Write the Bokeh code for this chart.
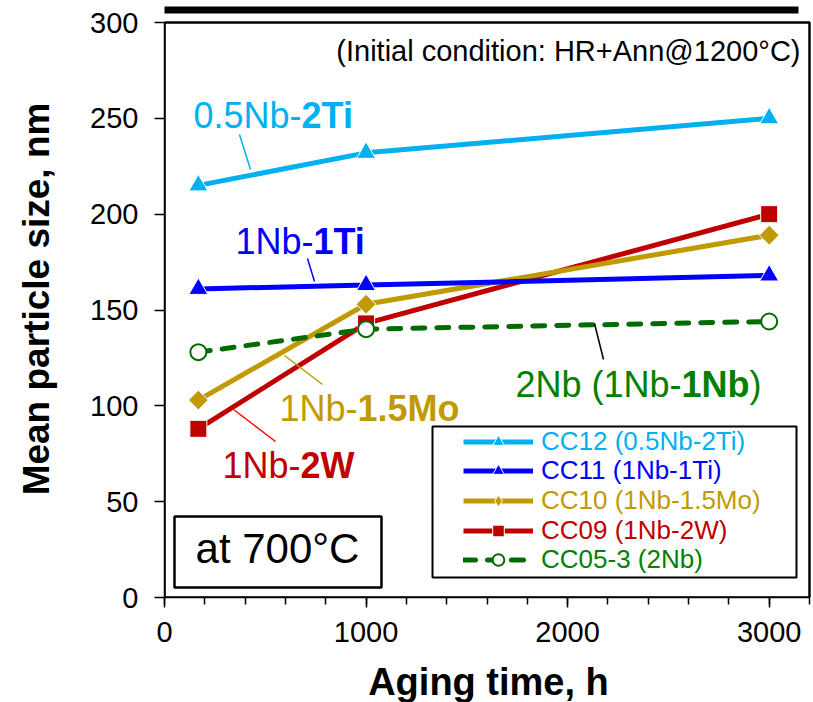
from bokeh.plotting import figure
from bokeh.models import (Range1d, Label, BoxAnnotation, Legend, LegendItem,
                          FixedTicker)
from bokeh.embed import file_html
from bokeh.resources import INLINE
import math

# ---------------- data ----------------
hours = [168, 1000, 3000]
cc12 = [215, 232, 250]   # 0.5Nb-2Ti
cc11 = [161, 163, 168]   # 1Nb-1Ti
cc10 = [103, 153, 189]   # 1Nb-1.5Mo
cc09 = [88, 143, 200]    # 1Nb-2W
cc05 = [128, 140, 144]   # 2Nb

legend_labels = ["CC12 (0.5Nb-2Ti)", "CC11 (1Nb-1Ti)", "CC10 (1Nb-1.5Mo)",
                 "CC09 (1Nb-2W)", "CC05-3 (2Nb)"]
x_ticks = [0, 1000, 2000, 3000]
y_ticks = [0, 50, 100, 150, 200, 250, 300]
X_MAX, Y_MAX = 3200, 300

FONT = "Liberation Sans"
C_LB = "#00B0F0"
C_B = "#0000FF"
C_GOLD = "#C09A00"
C_RED = "#C00000"
C_GREEN = "#006C00"
C_GREEN_T = "#008000"

# ---------------- layout geometry (page pixels) ----------------
FL, FW = 164, 645          # frame left / width of 0..3200
EXTRA = 3                  # extra pixels on the right so the border shows
AX_TOP, AX_BOT = 22, 597   # page y of 300 and of 0
PX_PER_Y = (AX_BOT - AX_TOP) / Y_MAX
FH = AX_BOT                # frame spans the page from its top edge

def dx(px):
    return (px - FL) / FW * X_MAX

def dy(py):
    return (AX_BOT - py) / PX_PER_Y

p = figure(frame_width=FW + EXTRA, frame_height=FH,
           min_border_left=FL, min_border_right=813 - FL - FW - EXTRA,
           min_border_top=0, min_border_bottom=702 - FH,
           x_range=Range1d(0, dx(FL + FW + EXTRA)), y_range=Range1d(0, dy(0)),
           output_backend="svg", toolbar_location=None)
p.grid.visible = False
p.outline_line_color = None
p.background_fill_color = "white"
p.border_fill_color = "white"

# axes
p.xaxis.ticker = FixedTicker(ticks=x_ticks,
                             minor_ticks=list(range(0, X_MAX + 1, 200)))
p.xaxis.bounds = (0, X_MAX)
p.yaxis.ticker = FixedTicker(ticks=y_ticks)
p.yaxis.bounds = (0, Y_MAX)
for ax in (p.xaxis[0], p.yaxis[0]):
    ax.axis_line_width = 1.5
    ax.major_tick_line_width = 1.5
    ax.minor_tick_line_width = 1.5
    ax.major_tick_in = 0
    ax.major_tick_out = 10
    ax.minor_tick_in = 0
    ax.minor_tick_out = 7
    ax.major_label_text_font = FONT
    ax.major_label_text_font_size = "29px"
    ax.major_label_text_color = "black"
    ax.axis_label_text_font = FONT
    ax.axis_label_text_font_style = "bold"
    ax.axis_label_text_color = "black"
p.yaxis.minor_tick_line_color = None
p.xaxis.axis_label = "Aging time, h"
p.xaxis.axis_label_text_font_size = "38px"
p.xaxis.major_label_standoff = 14
p.xaxis.axis_label_standoff = 16
p.yaxis.axis_label = "Mean particle size, nm"
p.yaxis.axis_label_text_font_size = "37px"
p.yaxis.major_label_standoff = 16
p.yaxis.axis_label_standoff = 30

# plot-area border and the cut-off title underline bar
p.add_layout(BoxAnnotation(left=0, right=X_MAX, bottom=0, top=Y_MAX,
                           fill_alpha=0, line_color="black", line_alpha=1,
                           line_width=2.5))
p.add_layout(BoxAnnotation(left=dx(158), right=dx(798), top=dy(6),
                           bottom=dy(13), fill_color="black", fill_alpha=1,
                           line_alpha=0))

# series
series = {}
r = p.line(hours, cc09, line_color=C_RED, line_width=5)
s = p.scatter(hours, cc09, marker="square", size=17, fill_color=C_RED,
              line_color="white", line_width=1)
series["cc09"] = [r, s]
r = p.line(hours, cc10, line_color=C_GOLD, line_width=5)
s = p.scatter(hours, cc10, marker="square", size=14, angle=math.pi / 4,
              fill_color=C_GOLD, line_color="white", line_width=1)
# legend proxy (not drawn in the plot): a diamond symbol
s_leg = p.scatter(x=[float("nan")], y=[float("nan")], marker="diamond",
                  size=20, fill_color=C_GOLD, line_color="white",
                  line_width=1)
series["cc10"] = [r, s_leg]
r = p.line(hours, cc11, line_color=C_B, line_width=5)
s = p.scatter(hours, cc11, marker="triangle", size=19, fill_color=C_B,
              line_color="white", line_width=1)
series["cc11"] = [r, s]
r = p.line(hours, cc12, line_color=C_LB, line_width=5)
s = p.scatter(hours, cc12, marker="triangle", size=19, fill_color=C_LB,
              line_color="white", line_width=1)
series["cc12"] = [r, s]
r = p.line(hours, cc05, line_color=C_GREEN, line_width=5,
           line_dash="12 12", line_cap="round")
s = p.scatter(hours, cc05, marker="circle", size=16, fill_color="white",
              line_color=C_GREEN, line_width=2)
series["cc05"] = [r, s]

# legends: one per row so that each label keeps its own colour
rows = [("cc12", C_LB), ("cc11", C_B), ("cc10", C_GOLD), ("cc09", C_RED),
        ("cc05", C_GREEN_T)]
row_centres = [442, 471, 501, 531, 560]
for (key, col), lab, cy in zip(rows, legend_labels, row_centres):
    leg = Legend(items=[LegendItem(label=lab, renderers=series[key])],
                 location=(463 - FL, AX_BOT - cy - 14.5),
                 padding=0, margin=0, spacing=0,
                 glyph_width=70, glyph_height=29, label_height=29,
                 label_standoff=8,
                 label_text_font=FONT, label_text_font_size="26px",
                 label_text_color=col,
                 background_fill_alpha=0, border_line_alpha=0)
    p.add_layout(leg)

p.add_layout(BoxAnnotation(left=dx(432), right=dx(796), top=dy(426),
                           bottom=dy(577), fill_alpha=0,
                           line_color="black", line_alpha=1, line_width=2))

# "at 700°C" box
p.add_layout(BoxAnnotation(left=dx(174), right=dx(381), top=dy(516),
                           bottom=dy(587), fill_alpha=0,
                           line_color="black", line_alpha=1, line_width=2.5))

def base_y(py, fs):
    # page baseline -> anchor used by the renderer
    return dy(py - 0.4 * fs)

p.add_layout(Label(x=dx(277), y=base_y(565, 42), text="at 700°C",
                   text_font=FONT, text_font_size="42px",
                   text_align="center", text_baseline="alphabetic",
                   text_color="black"))

p.add_layout(Label(x=dx(800), y=base_y(62, 29),
                   text="(Initial condition: HR+Ann@1200°C)",
                   text_font=FONT, text_font_size="29px", text_align="right",
                   text_baseline="alphabetic", text_color="black"))

# Arial / Liberation Sans advance widths (per 1000 em)
W_N = {'0': 556, '1': 556, '2': 556, '5': 556, '.': 278, 'N': 722, 'b': 556,
       '-': 333, ' ': 278, '(': 333, ')': 333}
W_B = {'1': 556, '2': 556, '5': 556, '.': 278, 'N': 722, 'b': 611, 'T': 611,
       'i': 278, 'M': 833, 'o': 611, 'W': 944}
FS = 36

def width(s, bold):
    table = W_B if bold else W_N
    return sum(table[c] for c in s) / 1000 * FS

def mixed(parts, x0, base, color):
    x = x0
    for txt, bold in parts:
        p.add_layout(Label(x=dx(x), y=base_y(base, FS), text=txt,
                           text_font=FONT, text_font_size=f"{FS}px",
                           text_font_style="bold" if bold else "normal",
                           text_align="left", text_baseline="alphabetic",
                           text_color=color))
        x += width(txt, bold)

mixed([("0.5Nb-", False), ("2Ti", True)], 193, 129, C_LB)
mixed([("1Nb-", False), ("1Ti", True)], 235, 255, C_B)
mixed([("1Nb-", False), ("1.5Mo", True)], 279, 422, C_GOLD)
mixed([("1Nb-", False), ("2W", True)], 222, 479, C_RED)
mixed([("2Nb (1Nb-", False), ("1Nb", True), (")", False)], 515, 398, C_GREEN_T)

# leader lines
leaders = [((239, 134), (250, 169), C_LB),
           ((307, 258), (314, 281), C_B),
           ((284, 355), (322, 384), C_GOLD),
           ((233, 409), (275, 441), "#FF0000"),
           ((594, 323), (603, 359), "black")]
for (a, b, col) in leaders:
    p.segment(x0=[dx(a[0])], y0=[dy(a[1])], x1=[dx(b[0])], y1=[dy(b[1])],
              line_color=col, line_width=1.5)

open("out.html", "w").write(file_html(p, INLINE))
